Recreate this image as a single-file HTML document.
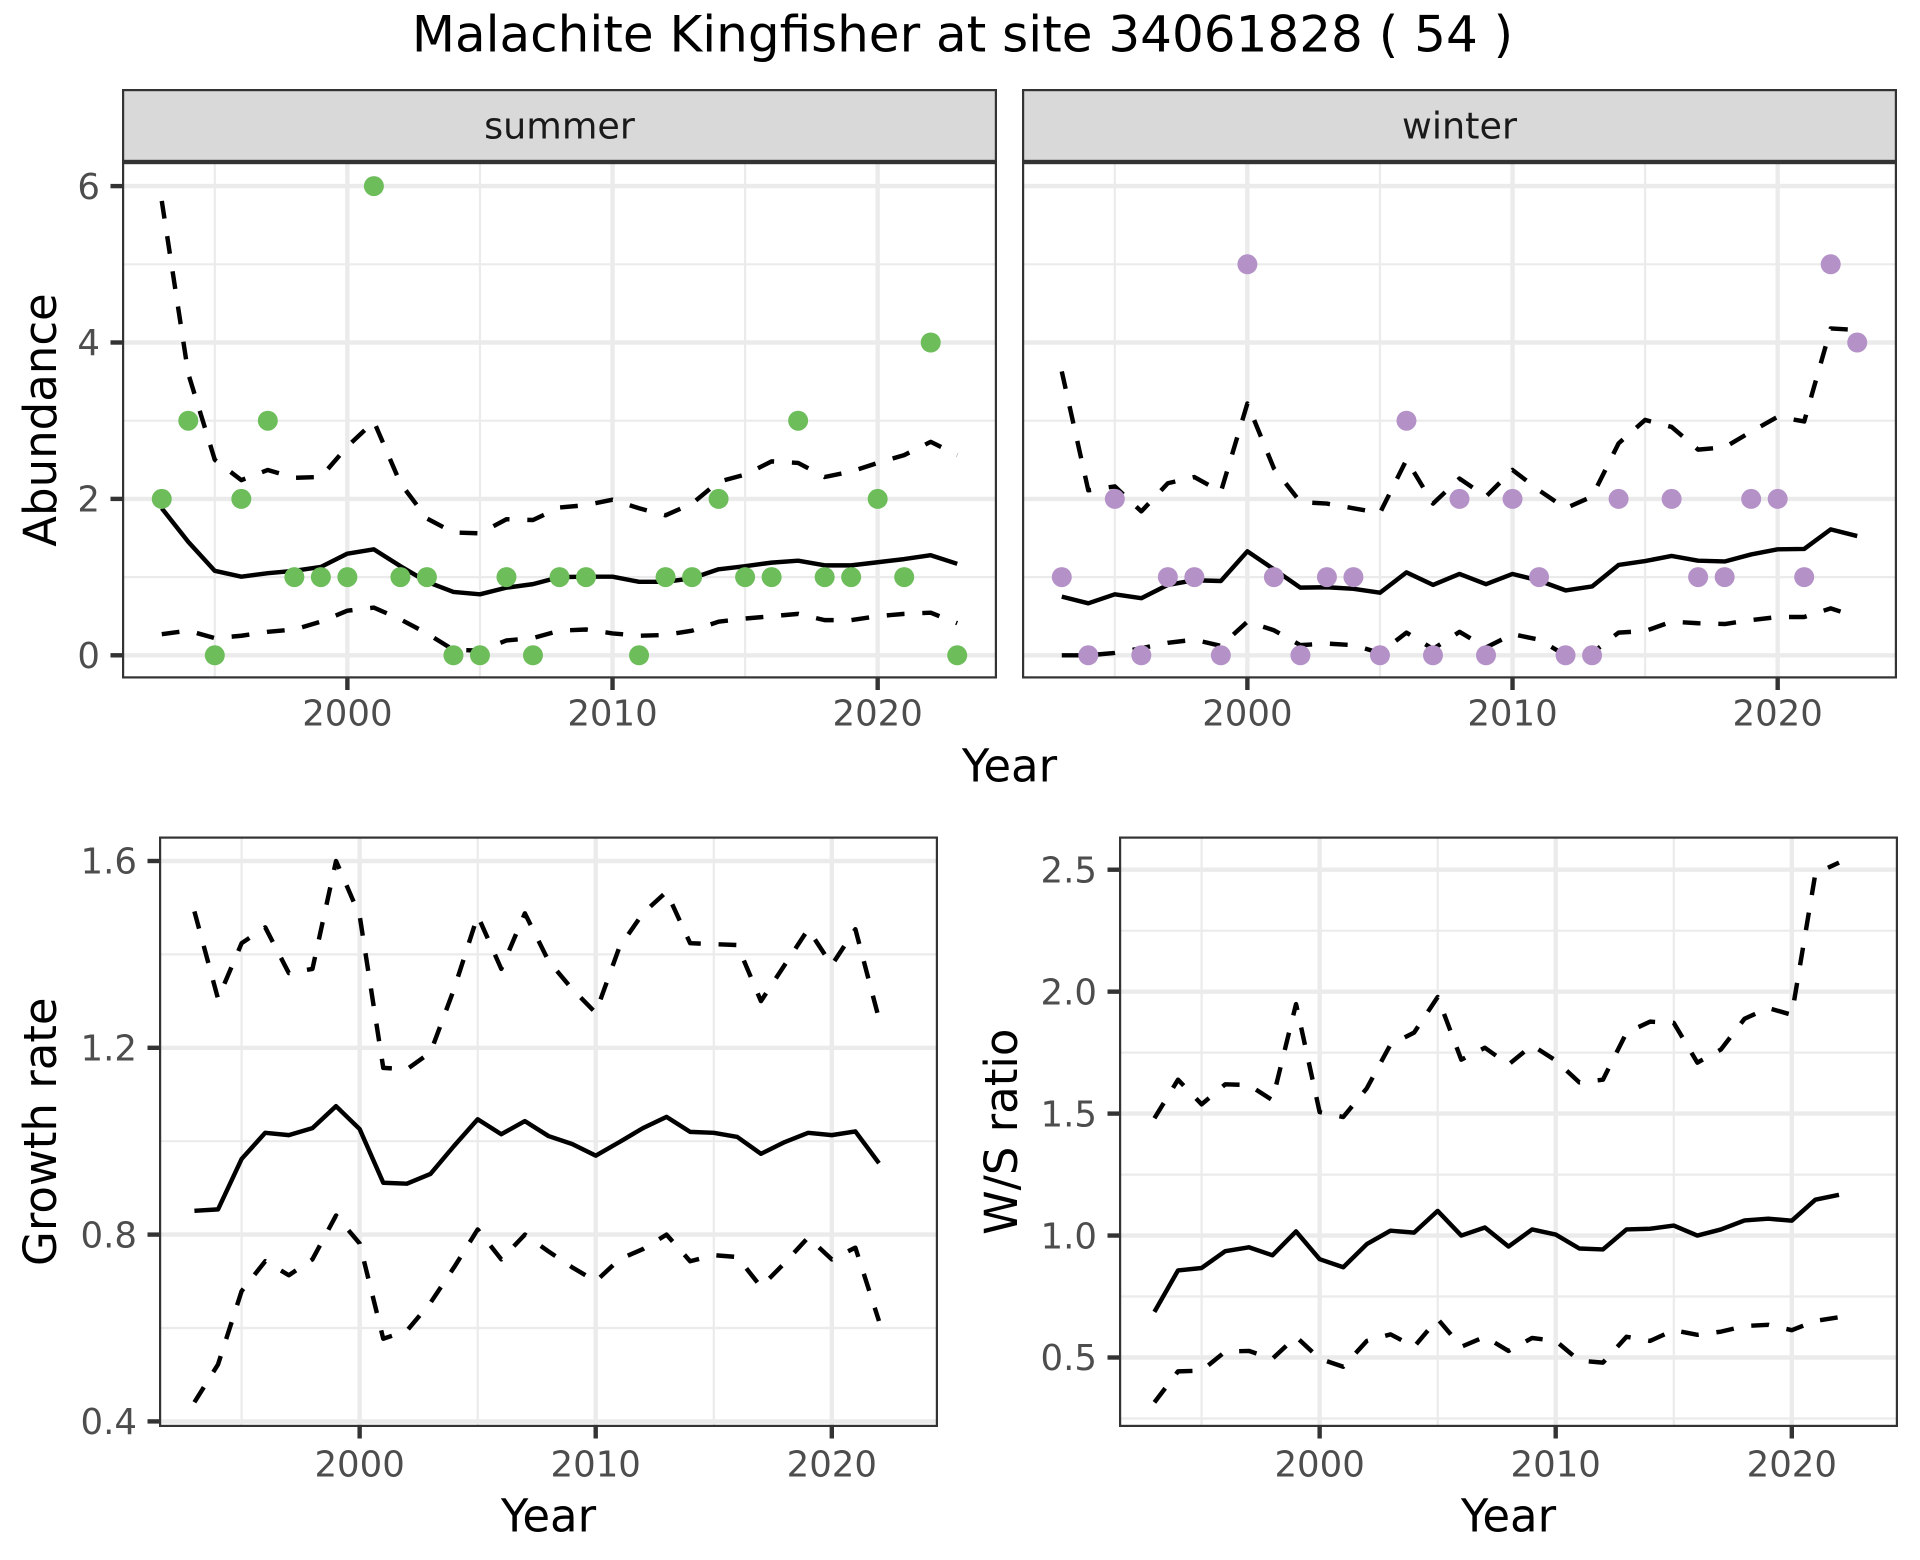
<!DOCTYPE html>
<html>
<head>
<meta charset="utf-8">
<style>
html,body{margin:0;padding:0;background:#fff;}
svg{display:block;}
text{font-family:"DejaVu Sans","Liberation Sans",sans-serif;}
.tl{font-size:35.5px;fill:#4D4D4D;}
.at{font-size:45px;fill:#000;}
.st{font-size:36.5px;fill:#1A1A1A;}
.gmin{stroke:#EBEBEB;stroke-width:2.2;}
.gmaj{stroke:#EBEBEB;stroke-width:4.4;}
.tk{stroke:#333333;stroke-width:4.4;}
.ln{fill:none;stroke:#000;stroke-width:4.44;stroke-linejoin:round;stroke-linecap:butt;vector-effect:non-scaling-stroke;}
.ds{stroke-dasharray:17.8 17.8;}
</style>
</head>
<body>
<svg width="1920" height="1560" viewBox="0 0 1920 1560" xmlns="http://www.w3.org/2000/svg">
<rect x="0" y="0" width="1920" height="1560" fill="#fff"/>

<!-- Title -->
<text x="962.5" y="51.5" text-anchor="middle" style="font-size:50px;fill:#000">Malachite Kingfisher at site 34061828 ( 54 )</text>

<!-- ================= TOP: SUMMER ================= -->
<rect x="122" y="89" width="875" height="73" fill="#D9D9D9"/>
<rect x="123.1" y="90.1" width="872.8" height="70.8" fill="none" stroke="#333333" stroke-width="2.2"/>
<text class="st" x="559.5" y="138.3" text-anchor="middle">summer</text>

<g>
<line class="gmin" x1="122" x2="997" y1="264.3" y2="264.3"/>
<line class="gmin" x1="122" x2="997" y1="420.7" y2="420.7"/>
<line class="gmin" x1="122" x2="997" y1="577.1" y2="577.1"/>
<line class="gmin" x1="214.8" x2="214.8" y1="162" y2="678.5"/>
<line class="gmin" x1="479.95" x2="479.95" y1="162" y2="678.5"/>
<line class="gmin" x1="745.1" x2="745.1" y1="162" y2="678.5"/>
<line class="gmaj" x1="122" x2="997" y1="186.1" y2="186.1"/>
<line class="gmaj" x1="122" x2="997" y1="342.5" y2="342.5"/>
<line class="gmaj" x1="122" x2="997" y1="498.9" y2="498.9"/>
<line class="gmaj" x1="122" x2="997" y1="655.3" y2="655.3"/>
<line class="gmaj" x1="347.38" x2="347.38" y1="162" y2="678.5"/>
<line class="gmaj" x1="612.53" x2="612.53" y1="162" y2="678.5"/>
<line class="gmaj" x1="877.68" x2="877.68" y1="162" y2="678.5"/>
</g>

<g transform="translate(122,655.3) scale(26.515,-78.2) translate(-1991.5,0)">
<polyline class="ln" points="1993,1.88 1994,1.45 1995,1.08 1996,1.005 1997,1.05 1998,1.08 1999,1.13 2000,1.30 2001,1.355 2002,1.14 2003,0.94 2004,0.81 2005,0.78 2006,0.865 2007,0.91 2008,1.0 2009,1.005 2010,1.005 2011,0.94 2012,0.94 2013,0.985 2014,1.10 2015,1.14 2016,1.185 2017,1.21 2018,1.15 2019,1.15 2020,1.19 2021,1.23 2022,1.28 2023,1.17"/>
<polyline class="ln ds" points="1993,5.81 1994,3.60 1995,2.50 1996,2.24 1997,2.37 1998,2.27 1999,2.28 2000,2.67 2001,2.99 2002,2.20 2003,1.75 2004,1.57 2005,1.56 2006,1.74 2007,1.73 2008,1.89 2009,1.92 2010,1.99 2011,1.88 2012,1.79 2013,1.94 2014,2.22 2015,2.31 2016,2.48 2017,2.46 2018,2.28 2019,2.35 2020,2.46 2021,2.56 2022,2.73 2023,2.56"/>
<polyline class="ln ds" points="1993,0.27 1994,0.315 1995,0.22 1996,0.25 1997,0.30 1998,0.33 1999,0.43 2000,0.57 2001,0.61 2002,0.46 2003,0.28 2004,0.07 2005,0.06 2006,0.19 2007,0.22 2008,0.315 2009,0.33 2010,0.28 2011,0.25 2012,0.26 2013,0.315 2014,0.43 2015,0.47 2016,0.50 2017,0.53 2018,0.45 2019,0.45 2020,0.50 2021,0.53 2022,0.545 2023,0.41"/>
</g>

<g fill="#6DBD5B">
<circle cx="161.77" cy="498.9" r="10"/>
<circle cx="188.29" cy="420.7" r="10"/>
<circle cx="214.80" cy="655.3" r="10"/>
<circle cx="241.32" cy="498.9" r="10"/>
<circle cx="267.83" cy="420.7" r="10"/>
<circle cx="294.35" cy="577.1" r="10"/>
<circle cx="320.86" cy="577.1" r="10"/>
<circle cx="347.38" cy="577.1" r="10"/>
<circle cx="373.89" cy="186.1" r="10"/>
<circle cx="400.41" cy="577.1" r="10"/>
<circle cx="426.92" cy="577.1" r="10"/>
<circle cx="453.44" cy="655.3" r="10"/>
<circle cx="479.95" cy="655.3" r="10"/>
<circle cx="506.47" cy="577.1" r="10"/>
<circle cx="532.98" cy="655.3" r="10"/>
<circle cx="559.50" cy="577.1" r="10"/>
<circle cx="586.01" cy="577.1" r="10"/>
<circle cx="639.04" cy="655.3" r="10"/>
<circle cx="665.56" cy="577.1" r="10"/>
<circle cx="692.07" cy="577.1" r="10"/>
<circle cx="718.59" cy="498.9" r="10"/>
<circle cx="745.10" cy="577.1" r="10"/>
<circle cx="771.62" cy="577.1" r="10"/>
<circle cx="798.13" cy="420.7" r="10"/>
<circle cx="824.65" cy="577.1" r="10"/>
<circle cx="851.16" cy="577.1" r="10"/>
<circle cx="877.68" cy="498.9" r="10"/>
<circle cx="904.19" cy="577.1" r="10"/>
<circle cx="930.71" cy="342.5" r="10"/>
<circle cx="957.22" cy="655.3" r="10"/>
</g>

<rect x="123.1" y="163.1" width="872.8" height="514.3" fill="none" stroke="#333333" stroke-width="2.2"/>

<!-- ================= TOP: WINTER ================= -->
<rect x="1022" y="89" width="875" height="73" fill="#D9D9D9"/>
<rect x="1023.1" y="90.1" width="872.8" height="70.8" fill="none" stroke="#333333" stroke-width="2.2"/>
<text class="st" x="1459.5" y="138.3" text-anchor="middle">winter</text>

<g>
<line class="gmin" x1="1022" x2="1897" y1="264.3" y2="264.3"/>
<line class="gmin" x1="1022" x2="1897" y1="420.7" y2="420.7"/>
<line class="gmin" x1="1022" x2="1897" y1="577.1" y2="577.1"/>
<line class="gmin" x1="1114.8" x2="1114.8" y1="162" y2="678.5"/>
<line class="gmin" x1="1379.95" x2="1379.95" y1="162" y2="678.5"/>
<line class="gmin" x1="1645.1" x2="1645.1" y1="162" y2="678.5"/>
<line class="gmaj" x1="1022" x2="1897" y1="186.1" y2="186.1"/>
<line class="gmaj" x1="1022" x2="1897" y1="342.5" y2="342.5"/>
<line class="gmaj" x1="1022" x2="1897" y1="498.9" y2="498.9"/>
<line class="gmaj" x1="1022" x2="1897" y1="655.3" y2="655.3"/>
<line class="gmaj" x1="1247.38" x2="1247.38" y1="162" y2="678.5"/>
<line class="gmaj" x1="1512.53" x2="1512.53" y1="162" y2="678.5"/>
<line class="gmaj" x1="1777.68" x2="1777.68" y1="162" y2="678.5"/>
</g>

<g transform="translate(1022,655.3) scale(26.515,-78.2) translate(-1991.5,0)">
<polyline class="ln" points="1993,0.75 1994,0.665 1995,0.78 1996,0.73 1997,0.90 1998,0.96 1999,0.95 2000,1.33 2001,1.10 2002,0.865 2003,0.87 2004,0.85 2005,0.80 2006,1.06 2007,0.90 2008,1.04 2009,0.91 2010,1.04 2011,0.955 2012,0.83 2013,0.88 2014,1.155 2015,1.205 2016,1.27 2017,1.21 2018,1.20 2019,1.29 2020,1.355 2021,1.36 2022,1.61 2023,1.525"/>
<polyline class="ln ds" points="1993,3.63 1994,2.11 1995,2.16 1996,1.84 1997,2.20 1998,2.28 1999,2.09 2000,3.22 2001,2.39 2002,1.96 2003,1.94 2004,1.88 2005,1.82 2006,2.50 2007,1.94 2008,2.26 2009,2.03 2010,2.37 2011,2.11 2012,1.88 2013,2.03 2014,2.71 2015,3.01 2016,2.92 2017,2.63 2018,2.66 2019,2.86 2020,3.05 2021,2.99 2022,4.18 2023,4.16"/>
<polyline class="ln ds" points="1993,0 1994,0 1995,0.03 1996,0.09 1997,0.16 1998,0.20 1999,0.12 2000,0.43 2001,0.32 2002,0.13 2003,0.15 2004,0.13 2005,0.03 2006,0.29 2007,0.08 2008,0.30 2009,0.10 2010,0.27 2011,0.20 2012,0.0 2013,0.03 2014,0.29 2015,0.31 2016,0.43 2017,0.41 2018,0.40 2019,0.45 2020,0.49 2021,0.49 2022,0.60 2023,0.49"/>
</g>

<g fill="#B492C8">
<circle cx="1061.77" cy="577.1" r="10"/>
<circle cx="1088.29" cy="655.3" r="10"/>
<circle cx="1114.80" cy="498.9" r="10"/>
<circle cx="1141.32" cy="655.3" r="10"/>
<circle cx="1167.83" cy="577.1" r="10"/>
<circle cx="1194.35" cy="577.1" r="10"/>
<circle cx="1220.86" cy="655.3" r="10"/>
<circle cx="1247.38" cy="264.3" r="10"/>
<circle cx="1273.89" cy="577.1" r="10"/>
<circle cx="1300.41" cy="655.3" r="10"/>
<circle cx="1326.92" cy="577.1" r="10"/>
<circle cx="1353.44" cy="577.1" r="10"/>
<circle cx="1379.95" cy="655.3" r="10"/>
<circle cx="1406.47" cy="420.7" r="10"/>
<circle cx="1432.98" cy="655.3" r="10"/>
<circle cx="1459.50" cy="498.9" r="10"/>
<circle cx="1486.01" cy="655.3" r="10"/>
<circle cx="1512.53" cy="498.9" r="10"/>
<circle cx="1539.04" cy="577.1" r="10"/>
<circle cx="1565.56" cy="655.3" r="10"/>
<circle cx="1592.07" cy="655.3" r="10"/>
<circle cx="1618.59" cy="498.9" r="10"/>
<circle cx="1671.62" cy="498.9" r="10"/>
<circle cx="1698.13" cy="577.1" r="10"/>
<circle cx="1724.65" cy="577.1" r="10"/>
<circle cx="1751.16" cy="498.9" r="10"/>
<circle cx="1777.68" cy="498.9" r="10"/>
<circle cx="1804.19" cy="577.1" r="10"/>
<circle cx="1830.71" cy="264.3" r="10"/>
<circle cx="1857.22" cy="342.5" r="10"/>
</g>

<rect x="1023.1" y="163.1" width="872.8" height="514.3" fill="none" stroke="#333333" stroke-width="2.2"/>

<!-- top axes -->
<g>
<line class="tk" x1="110.5" x2="122" y1="186.1" y2="186.1"/>
<line class="tk" x1="110.5" x2="122" y1="342.5" y2="342.5"/>
<line class="tk" x1="110.5" x2="122" y1="498.9" y2="498.9"/>
<line class="tk" x1="110.5" x2="122" y1="655.3" y2="655.3"/>
<line class="tk" x1="347.38" x2="347.38" y1="678.5" y2="690"/>
<line class="tk" x1="612.53" x2="612.53" y1="678.5" y2="690"/>
<line class="tk" x1="877.68" x2="877.68" y1="678.5" y2="690"/>
<line class="tk" x1="1247.38" x2="1247.38" y1="678.5" y2="690"/>
<line class="tk" x1="1512.53" x2="1512.53" y1="678.5" y2="690"/>
<line class="tk" x1="1777.68" x2="1777.68" y1="678.5" y2="690"/>
</g>
<text class="tl" x="100" y="198.8" text-anchor="end">6</text>
<text class="tl" x="100" y="355.2" text-anchor="end">4</text>
<text class="tl" x="100" y="511.6" text-anchor="end">2</text>
<text class="tl" x="100" y="668" text-anchor="end">0</text>
<text class="tl" x="347.38" y="725.5" text-anchor="middle">2000</text>
<text class="tl" x="612.53" y="725.5" text-anchor="middle">2010</text>
<text class="tl" x="877.68" y="725.5" text-anchor="middle">2020</text>
<text class="tl" x="1247.38" y="725.5" text-anchor="middle">2000</text>
<text class="tl" x="1512.53" y="725.5" text-anchor="middle">2010</text>
<text class="tl" x="1777.68" y="725.5" text-anchor="middle">2020</text>
<text class="at" x="1009.5" y="781.7" text-anchor="middle">Year</text>
<text class="at" x="0" y="0" text-anchor="middle" transform="translate(56,420) rotate(-90)">Abundance</text>

<!-- ================= BOTTOM LEFT: GROWTH RATE ================= -->
<g>
<line class="gmin" x1="159" x2="938" y1="954.4" y2="954.4"/>
<line class="gmin" x1="159" x2="938" y1="1141.2" y2="1141.2"/>
<line class="gmin" x1="159" x2="938" y1="1328" y2="1328"/>
<line class="gmin" x1="241.6" x2="241.6" y1="836.5" y2="1427"/>
<line class="gmin" x1="477.7" x2="477.7" y1="836.5" y2="1427"/>
<line class="gmin" x1="713.8" x2="713.8" y1="836.5" y2="1427"/>
<line class="gmaj" x1="159" x2="938" y1="861" y2="861"/>
<line class="gmaj" x1="159" x2="938" y1="1047.8" y2="1047.8"/>
<line class="gmaj" x1="159" x2="938" y1="1234.6" y2="1234.6"/>
<line class="gmaj" x1="159" x2="938" y1="1421.4" y2="1421.4"/>
<line class="gmaj" x1="359.65" x2="359.65" y1="836.5" y2="1427"/>
<line class="gmaj" x1="595.7" x2="595.7" y1="836.5" y2="1427"/>
<line class="gmaj" x1="831.8" x2="831.8" y1="836.5" y2="1427"/>
</g>

<g transform="translate(159,1608.2) scale(23.606,-467) translate(-1991.5,0)">
<polyline class="ln" points="1993,0.851 1994,0.854 1995,0.962 1996,1.018 1997,1.013 1998,1.028 1999,1.075 2000,1.026 2001,0.911 2002,0.909 2003,0.930 2004,0.990 2005,1.047 2006,1.015 2007,1.043 2008,1.011 2009,0.994 2010,0.969 2011,0.998 2012,1.028 2013,1.052 2014,1.020 2015,1.018 2016,1.009 2017,0.973 2018,0.998 2019,1.018 2020,1.013 2021,1.021 2022,0.953"/>
<polyline class="ln ds" points="1993,1.492 1994,1.305 1995,1.424 1996,1.458 1997,1.360 1998,1.369 1999,1.600 2000,1.483 2001,1.157 2002,1.154 2003,1.190 2004,1.326 2005,1.483 2006,1.369 2007,1.488 2008,1.386 2009,1.326 2010,1.275 2011,1.415 2012,1.488 2013,1.534 2014,1.424 2015,1.422 2016,1.420 2017,1.300 2018,1.377 2019,1.454 2020,1.377 2021,1.454 2022,1.262"/>
<polyline class="ln ds" points="1993,0.441 1994,0.522 1995,0.679 1996,0.743 1997,0.713 1998,0.747 1999,0.841 2000,0.781 2001,0.577 2002,0.594 2003,0.654 2004,0.730 2005,0.811 2006,0.747 2007,0.800 2008,0.764 2009,0.730 2010,0.700 2011,0.747 2012,0.769 2013,0.800 2014,0.743 2015,0.756 2016,0.752 2017,0.688 2018,0.739 2019,0.794 2020,0.747 2021,0.772 2022,0.615"/>
</g>

<rect x="160.1" y="837.6" width="776.8" height="588.3" fill="none" stroke="#333333" stroke-width="2.2"/>

<g>
<line class="tk" x1="147.5" x2="159" y1="861" y2="861"/>
<line class="tk" x1="147.5" x2="159" y1="1047.8" y2="1047.8"/>
<line class="tk" x1="147.5" x2="159" y1="1234.6" y2="1234.6"/>
<line class="tk" x1="147.5" x2="159" y1="1421.4" y2="1421.4"/>
<line class="tk" x1="359.65" x2="359.65" y1="1427" y2="1438.5"/>
<line class="tk" x1="595.7" x2="595.7" y1="1427" y2="1438.5"/>
<line class="tk" x1="831.8" x2="831.8" y1="1427" y2="1438.5"/>
</g>
<text class="tl" x="137" y="873.7" text-anchor="end">1.6</text>
<text class="tl" x="137" y="1060.5" text-anchor="end">1.2</text>
<text class="tl" x="137" y="1247.3" text-anchor="end">0.8</text>
<text class="tl" x="137" y="1434.1" text-anchor="end">0.4</text>
<text class="tl" x="359.65" y="1476.5" text-anchor="middle">2000</text>
<text class="tl" x="595.7" y="1476.5" text-anchor="middle">2010</text>
<text class="tl" x="831.8" y="1476.5" text-anchor="middle">2020</text>
<text class="at" x="548.5" y="1531.6" text-anchor="middle">Year</text>
<text class="at" x="0" y="0" text-anchor="middle" transform="translate(56,1131.7) rotate(-90)">Growth rate</text>

<!-- ================= BOTTOM RIGHT: W/S RATIO ================= -->
<g>
<line class="gmin" x1="1119" x2="1898" y1="930.7" y2="930.7"/>
<line class="gmin" x1="1119" x2="1898" y1="1052.6" y2="1052.6"/>
<line class="gmin" x1="1119" x2="1898" y1="1174.6" y2="1174.6"/>
<line class="gmin" x1="1119" x2="1898" y1="1296.5" y2="1296.5"/>
<line class="gmin" x1="1119" x2="1898" y1="1418.5" y2="1418.5"/>
<line class="gmin" x1="1201.6" x2="1201.6" y1="836.5" y2="1427"/>
<line class="gmin" x1="1437.7" x2="1437.7" y1="836.5" y2="1427"/>
<line class="gmin" x1="1673.8" x2="1673.8" y1="836.5" y2="1427"/>
<line class="gmaj" x1="1119" x2="1898" y1="869.7" y2="869.7"/>
<line class="gmaj" x1="1119" x2="1898" y1="991.65" y2="991.65"/>
<line class="gmaj" x1="1119" x2="1898" y1="1113.6" y2="1113.6"/>
<line class="gmaj" x1="1119" x2="1898" y1="1235.55" y2="1235.55"/>
<line class="gmaj" x1="1119" x2="1898" y1="1357.5" y2="1357.5"/>
<line class="gmaj" x1="1319.65" x2="1319.65" y1="836.5" y2="1427"/>
<line class="gmaj" x1="1555.7" x2="1555.7" y1="836.5" y2="1427"/>
<line class="gmaj" x1="1791.8" x2="1791.8" y1="836.5" y2="1427"/>
</g>

<g transform="translate(1119,1479.45) scale(23.606,-243.9) translate(-1991.5,0)">
<polyline class="ln" points="1993,0.687 1994,0.857 1995,0.867 1996,0.936 1997,0.952 1998,0.919 1999,1.017 2000,0.903 2001,0.870 2002,0.965 2003,1.020 2004,1.012 2005,1.101 2006,1.000 2007,1.033 2008,0.955 2009,1.025 2010,1.004 2011,0.947 2012,0.943 2013,1.025 2014,1.028 2015,1.041 2016,1.000 2017,1.025 2018,1.062 2019,1.069 2020,1.061 2021,1.147 2022,1.167"/>
<polyline class="ln ds" points="1993,1.481 1994,1.639 1995,1.538 1996,1.620 1997,1.617 1998,1.555 1999,1.949 2000,1.506 2001,1.486 2002,1.604 2003,1.783 2004,1.832 2005,1.978 2006,1.721 2007,1.770 2008,1.701 2009,1.780 2010,1.718 2011,1.628 2012,1.639 2013,1.832 2014,1.877 2015,1.872 2016,1.709 2017,1.763 2018,1.889 2019,1.933 2020,1.905 2021,2.484 2022,2.529"/>
<polyline class="ln ds" points="1993,0.316 1994,0.443 1995,0.446 1996,0.524 1997,0.527 1998,0.495 1999,0.585 2000,0.495 2001,0.462 2002,0.568 2003,0.595 2004,0.544 2005,0.658 2006,0.544 2007,0.585 2008,0.527 2009,0.580 2010,0.568 2011,0.487 2012,0.479 2013,0.585 2014,0.568 2015,0.612 2016,0.593 2017,0.606 2018,0.629 2019,0.634 2020,0.612 2021,0.650 2022,0.665"/>
</g>

<rect x="1120.1" y="837.6" width="776.8" height="588.3" fill="none" stroke="#333333" stroke-width="2.2"/>

<g>
<line class="tk" x1="1107.5" x2="1119" y1="869.7" y2="869.7"/>
<line class="tk" x1="1107.5" x2="1119" y1="991.65" y2="991.65"/>
<line class="tk" x1="1107.5" x2="1119" y1="1113.6" y2="1113.6"/>
<line class="tk" x1="1107.5" x2="1119" y1="1235.55" y2="1235.55"/>
<line class="tk" x1="1107.5" x2="1119" y1="1357.5" y2="1357.5"/>
<line class="tk" x1="1319.65" x2="1319.65" y1="1427" y2="1438.5"/>
<line class="tk" x1="1555.7" x2="1555.7" y1="1427" y2="1438.5"/>
<line class="tk" x1="1791.8" x2="1791.8" y1="1427" y2="1438.5"/>
</g>
<text class="tl" x="1097" y="882.4" text-anchor="end">2.5</text>
<text class="tl" x="1097" y="1004.35" text-anchor="end">2.0</text>
<text class="tl" x="1097" y="1126.3" text-anchor="end">1.5</text>
<text class="tl" x="1097" y="1248.25" text-anchor="end">1.0</text>
<text class="tl" x="1097" y="1370.2" text-anchor="end">0.5</text>
<text class="tl" x="1319.65" y="1476.5" text-anchor="middle">2000</text>
<text class="tl" x="1555.7" y="1476.5" text-anchor="middle">2010</text>
<text class="tl" x="1791.8" y="1476.5" text-anchor="middle">2020</text>
<text class="at" x="1508.5" y="1531.6" text-anchor="middle">Year</text>
<text class="at" x="0" y="0" text-anchor="middle" transform="translate(1017,1131.7) rotate(-90)">W/S ratio</text>
</svg>
</body>
</html>
